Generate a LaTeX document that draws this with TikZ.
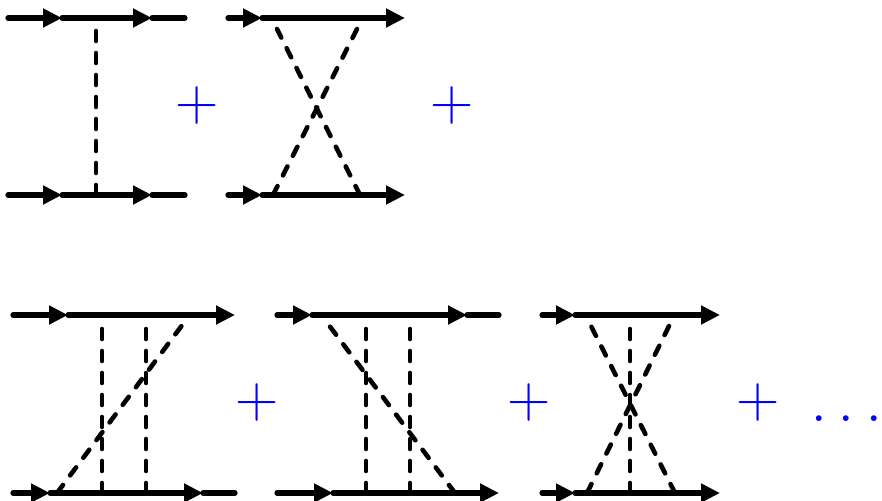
\documentclass[tikz,border=0pt]{standalone}
\usetikzlibrary{arrows.meta}
\begin{document}
\begin{tikzpicture}[x=1pt,y=-1pt,
  plainline/.style={line width=5.2pt, line cap=round},
  fermion/.style={line width=5.2pt, line cap=round, -{Triangle[length=19pt,width=18pt]}},
  scalar/.style={line width=4.6pt, line cap=round, dash pattern=on 10pt off 12pt},
  plussign/.style={text=blue, font=\fontsize{60}{60}\selectfont, inner sep=0pt},
  dotstext/.style={text=blue, font=\fontsize{70}{70}\selectfont, inner sep=0pt},
]
\useasboundingbox (0,0) rectangle (882,500);
% ---------- diagram 1 ----------
\coordinate (a1) at (8,18);   \coordinate (a1t1) at (62,18);  \coordinate (a1t2) at (152,18);  \coordinate (a1e) at (185,18);
\coordinate (b1) at (8,195);  \coordinate (b1t1) at (62,195); \coordinate (b1t2) at (152,195); \coordinate (b1e) at (185,195);
\draw[fermion] (a1) -- (a1t1); \draw[fermion] (a1t1) -- (a1t2); \draw[plainline] (a1t2) -- (a1e);
\draw[fermion] (b1) -- (b1t1); \draw[fermion] (b1t1) -- (b1t2); \draw[plainline] (b1t2) -- (b1e);
\coordinate (v1a) at (96,30); \coordinate (v1b) at (96,195);
\draw[scalar] (v1b) -- (v1a);
\node[plussign] (p1) at (197,106) {+};
% ---------- diagram 2 ----------
\coordinate (a2) at (228,18);  \coordinate (a2t1) at (262,18);  \coordinate (a2e) at (405,18);
\coordinate (b2) at (228,195); \coordinate (b2t1) at (262,195); \coordinate (b2e) at (405,195);
\draw[fermion] (a2) -- (a2t1); \draw[fermion] (a2t1) -- (a2e);
\draw[fermion] (b2) -- (b2t1); \draw[fermion] (b2t1) -- (b2e);
\coordinate (x2a) at (277,29); \coordinate (x2b) at (360,195);
\coordinate (x2c) at (357,29); \coordinate (x2d) at (273,195);
\draw[scalar] (x2b) -- (x2a);
\draw[scalar] (x2d) -- (x2c);
\node[plussign] (p2) at (452,106) {+};
% ---------- diagram 3 ----------
\coordinate (a3) at (13,315);  \coordinate (a3t1) at (68,315);  \coordinate (a3e) at (235,315);
\coordinate (b3) at (13,493);  \coordinate (b3t1) at (50,493);  \coordinate (b3t2) at (203,493); \coordinate (b3e) at (235,493);
\draw[fermion] (a3) -- (a3t1); \draw[fermion] (a3t1) -- (a3e);
\draw[fermion] (b3) -- (b3t1); \draw[fermion] (b3t1) -- (b3t2); \draw[plainline] (b3t2) -- (b3e);
\coordinate (v3a) at (102,326); \coordinate (v3b) at (102,493);
\coordinate (v3c) at (146,326); \coordinate (v3d) at (146,493);
\coordinate (d3a) at (183,324); \coordinate (d3b) at (57,493);
\draw[scalar] (v3b) -- (v3a);
\draw[scalar] (v3d) -- (v3c);
\draw[scalar] (d3b) -- (d3a);
\node[plussign] (p3) at (257,403) {+};
% ---------- diagram 4 ----------
\coordinate (a4) at (277,315); \coordinate (a4t1) at (312,315); \coordinate (a4t2) at (467,315); \coordinate (a4e) at (499,315);
\coordinate (b4) at (277,493); \coordinate (b4t1) at (333,493); \coordinate (b4e) at (499,493);
\draw[fermion] (a4) -- (a4t1); \draw[fermion] (a4t1) -- (a4t2); \draw[plainline] (a4t2) -- (a4e);
\draw[fermion] (b4) -- (b4t1); \draw[fermion] (b4t1) -- (b4e);
\coordinate (v4a) at (366,326); \coordinate (v4b) at (366,493);
\coordinate (v4c) at (410,326); \coordinate (v4d) at (410,493);
\coordinate (d4a) at (328,324); \coordinate (d4b) at (455,493);
\draw[scalar] (v4b) -- (v4a);
\draw[scalar] (v4d) -- (v4c);
\draw[scalar] (d4b) -- (d4a);
\node[plussign] (p4) at (529,403) {+};
% ---------- diagram 5 ----------
\coordinate (a5) at (542,315); \coordinate (a5t1) at (575,315); \coordinate (a5e) at (720,315);
\coordinate (b5) at (542,493); \coordinate (b5t1) at (575,493); \coordinate (b5e) at (720,493);
\draw[fermion] (a5) -- (a5t1); \draw[fermion] (a5t1) -- (a5e);
\draw[fermion] (b5) -- (b5t1); \draw[fermion] (b5t1) -- (b5e);
\coordinate (v5a) at (630,326); \coordinate (v5b) at (630,493);
\coordinate (d5a) at (590,324); \coordinate (d5b) at (675,493);
\coordinate (d5c) at (670,324); \coordinate (d5d) at (587,493);
\draw[scalar] (v5b) -- (v5a);
\draw[scalar] (d5b) -- (d5a);
\draw[scalar] (d5d) -- (d5c);
\node[plussign] (p5) at (758,403) {+};
\node[dotstext, anchor=base west] (dots) at (810,421) {.\kern10pt.\kern10pt.\kern-5.5pt};
\end{tikzpicture}
\end{document}
